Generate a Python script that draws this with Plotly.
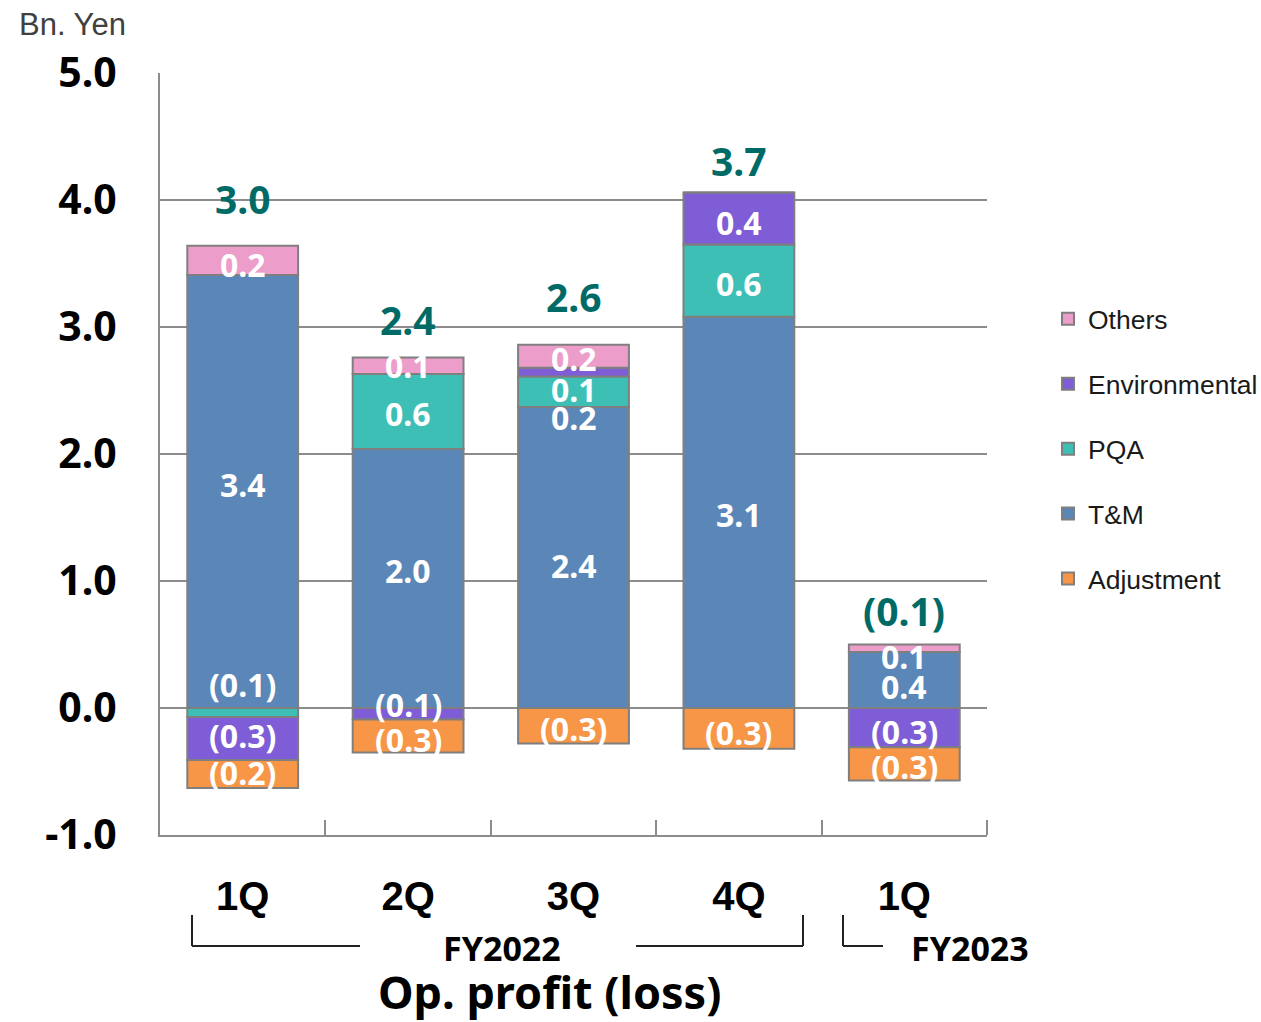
import plotly.graph_objects as go

# Quarterly operating profit (loss) by segment, billions of yen
quarters = ["1Q FY2022", "2Q FY2022", "3Q FY2022", "4Q FY2022", "1Q FY2023"]
quarter_labels = ["1Q", "2Q", "3Q", "4Q", "1Q"]

tm = [3.41, 2.04, 2.37, 3.08, 0.44]
pqa = [-0.07, 0.59, 0.24, 0.57, 0.0]
environmental = [-0.34, -0.09, 0.07, 0.41, -0.31]
others = [0.23, 0.13, 0.18, 0.0, 0.06]
adjustment = [-0.22, -0.26, -0.28, -0.32, -0.26]

y_ticks = [-1, 0, 1, 2, 3, 4, 5]

# stacking order (relative mode stacks each sign outward from zero in trace order)
series = [
    ("T&M", tm, "#5B87B8", 4),
    ("PQA", pqa, "#3DBFB6", 3),
    ("Environmental", environmental, "#7E5DD6", 2),
    ("Others", others, "#EC9DC9", 1),
    ("Adjustment", adjustment, "#F79646", 5),
]

# vertical nudges (px) for the segment labels
label_nudge = {
    ("T&M", 0): 7, ("Others", 0): -4, ("PQA", 0): 28, ("Environmental", 0): 3, ("Adjustment", 0): 2,
    ("T&M", 1): 8, ("PQA", 1): -2, ("Others", 1): 0, ("Environmental", 1): 9, ("Adjustment", 1): -4,
    ("T&M", 2): -8, ("PQA", 2): -26, ("Environmental", 2): -17, ("Others", 2): -2, ("Adjustment", 2): -3,
    ("T&M", 3): -2, ("PQA", 3): -3, ("Environmental", 3): -4, ("Adjustment", 3): -4,
    ("T&M", 4): -6, ("Others", 4): -8, ("Environmental", 4): -4, ("Adjustment", 4): -3,
}
total_offset = [47, 38, 48, 32, 34]

AXIS_GRAY = "#8C8C8C"
LABEL_FONT = "Noto Sans, DejaVu Sans, sans-serif"
ARIAL = "Liberation Sans, Arial, sans-serif"


def fmt(v):
    r = round(abs(v) + 1e-9, 1)
    return f"({r:.1f})" if v < 0 else f"{r:.1f}"


fig = go.Figure()
for name, vals, color, rank in series:
    fig.add_trace(go.Bar(
        x=quarters, y=vals, name=name,
        marker=dict(color=color, line=dict(color="#7F7F7F", width=2)),
        legendrank=rank, legendgroup=name,
        hoverinfo="name+y",
    ))

annotations = []
pos_base = [0.0] * len(quarters)
neg_base = [0.0] * len(quarters)
for name, vals, color, rank in series:
    for i, v in enumerate(vals):
        if v == 0:
            continue
        if v > 0:
            center = pos_base[i] + v / 2
            pos_base[i] += v
        else:
            center = neg_base[i] + v / 2
            neg_base[i] += v
        annotations.append(dict(
            x=quarters[i], y=center, xref="x", yref="y",
            text=fmt(v), showarrow=False, yanchor="middle",
            yshift=label_nudge.get((name, i), 0),
            font=dict(family=LABEL_FONT, size=32, color="white", weight="bold"),
        ))

totals = [sum(s[1][i] for s in series) for i in range(len(quarters))]
for i, t in enumerate(totals):
    annotations.append(dict(
        x=quarters[i], y=pos_base[i], xref="x", yref="y",
        text=fmt(t), showarrow=False, yanchor="middle", yshift=total_offset[i],
        font=dict(family=LABEL_FONT, size=39, color="#006B66", weight="bold"),
    ))

# fiscal-year captions and chart titles
PLOT_L, PLOT_R, PLOT_T, PLOT_B = 160, 987, 73, 835


def px_x(p):
    return (p - PLOT_L) / (PLOT_R - PLOT_L)


def px_y(p):
    return (PLOT_B - p) / (PLOT_B - PLOT_T)


annotations += [
    dict(x=px_x(502), y=px_y(948), xref="paper", yref="paper", text="FY2022",
         xanchor="center", yanchor="middle", showarrow=False,
         font=dict(family=LABEL_FONT, size=34, color="black", weight="bold")),
    dict(x=px_x(970), y=px_y(948), xref="paper", yref="paper", text="FY2023",
         xanchor="center", yanchor="middle", showarrow=False,
         font=dict(family=LABEL_FONT, size=34, color="black", weight="bold")),
    dict(x=px_x(549), y=px_y(991), xref="paper", yref="paper", text="Op. profit (loss)",
         xanchor="center", yanchor="middle", showarrow=False,
         font=dict(family=LABEL_FONT, size=45, color="black", weight="bold")),
    dict(x=px_x(17), y=px_y(25), xref="paper", yref="paper", text="Bn. Yen",
         xanchor="left", yanchor="middle", showarrow=False,
         font=dict(family=ARIAL, size=31, color="#404040")),
]

bracket_segments = [
    (192, 915, 192, 946), (192, 946, 360, 946),
    (636, 946, 803, 946), (803, 946, 803, 915),
    (843, 915, 843, 946), (843, 946, 883, 946),
]
shapes = [
    dict(type="line", xref="paper", yref="paper",
         x0=px_x(a), y0=px_y(b), x1=px_x(c), y1=px_y(d),
         line=dict(color="#222222", width=2))
    for a, b, c, d in bracket_segments
]
# closing tick at the right end of the category axis
shapes.append(dict(type="line", xref="paper", yref="paper",
                   x0=1, x1=1, y0=0, y1=15 / (PLOT_B - PLOT_T),
                   line=dict(color=AXIS_GRAY, width=2)))

fig.update_layout(
    width=1261, height=1022,
    margin=dict(l=PLOT_L, r=1261 - PLOT_R, t=PLOT_T, b=1022 - PLOT_B, autoexpand=False),
    barmode="relative", bargap=0.33,
    plot_bgcolor="white", paper_bgcolor="white",
    showlegend=True,
    legend=dict(
        x=px_x(1048), y=px_y(295), xanchor="left", yanchor="top",
        font=dict(family=ARIAL, size=26.5, color="#1A1A1A"),
        tracegroupgap=27.5, itemwidth=30, bgcolor="rgba(0,0,0,0)",
    ),
    annotations=annotations,
    shapes=shapes,
    xaxis=dict(
        type="category", categoryorder="array", categoryarray=quarters,
        tickmode="array", tickvals=quarters, ticktext=quarter_labels,
        tickson="boundaries", ticks="inside", ticklen=15, tickwidth=1.5,
        tickcolor=AXIS_GRAY, showline=True, linecolor=AXIS_GRAY, linewidth=2,
        showgrid=False, ticklabelstandoff=25,
        tickfont=dict(family=ARIAL, size=40, color="black", weight="bold"),
    ),
    yaxis=dict(
        range=[-1, 5], tickmode="array", tickvals=y_ticks,
        ticktext=[f"{v:.1f}" for v in y_ticks],
        showgrid=True, gridcolor=AXIS_GRAY, gridwidth=1.5,
        zeroline=False, showline=True, linecolor=AXIS_GRAY, linewidth=2,
        ticks="", ticklabelstandoff=33,
        tickfont=dict(family=LABEL_FONT, size=41, color="black", weight="bold"),
    ),
)

fig.write_html("out.html")
